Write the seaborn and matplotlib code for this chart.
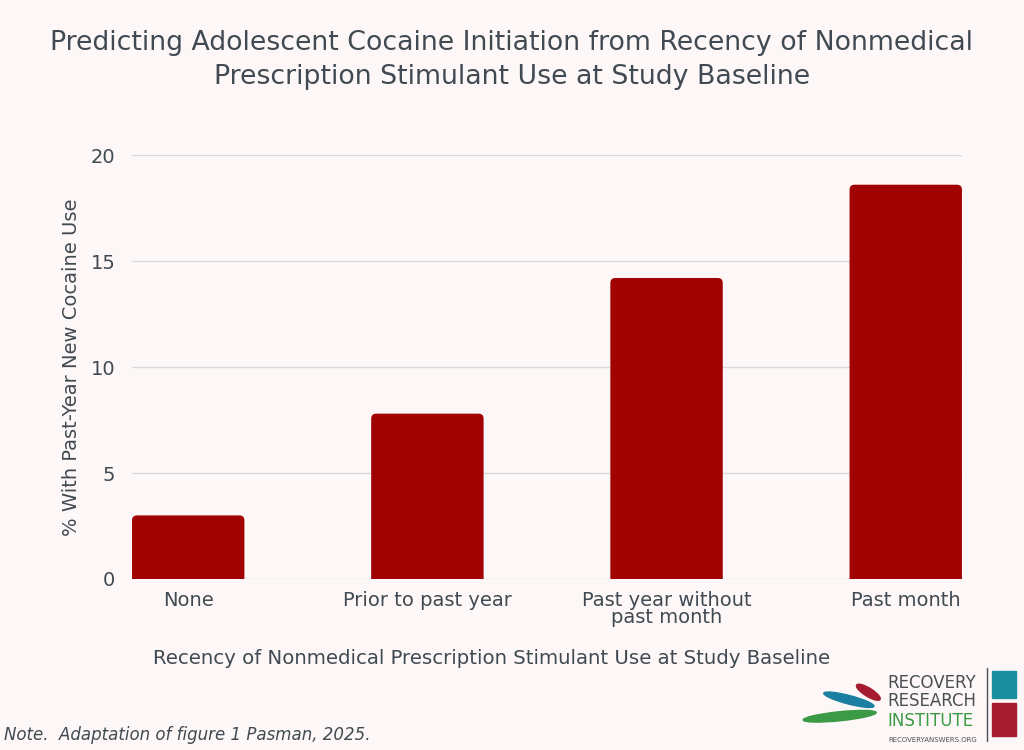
import numpy as np
import pandas as pd
import matplotlib.pyplot as plt
import matplotlib.patches as mpatches
import seaborn as sns

categories = ['None', 'Prior to past year', 'Past year without\npast month', 'Past month']
pct_new_cocaine = [3.0, 7.8, 14.2, 18.6]
y_ticks = [0, 5, 10, 15, 20]

df = pd.DataFrame({'recency': categories, 'pct': pct_new_cocaine})

bg = '#FDF8F7'
bar_col = '#A10303'
txt = '#414A52'

sns.set_theme(style='white')
plt.rcParams['font.family'] = ['DejaVu Sans']

fig = plt.figure(figsize=(10.24, 7.5), dpi=100, facecolor=bg)
ax = fig.add_axes([0.1289, 0.228, 0.8105, 0.5653], facecolor=bg)

sns.barplot(data=df, x='recency', y='pct', color=bar_col, width=0.47,
            saturation=1, ax=ax, zorder=3)

ax.set_xlim(-0.235, 3.235)
ax.set_ylim(0, 20)

# round the top corners of the bars
x_px = 830 / 3.47
y_px = 424 / 20
for p in list(ax.patches):
    x0, w, h = p.get_x(), p.get_width(), p.get_height()
    rb = mpatches.FancyBboxPatch((x0, -1), w, h + 1,
                                 boxstyle='round,pad=0,rounding_size=%f' % (5 / x_px),
                                 mutation_aspect=x_px / y_px,
                                 facecolor=bar_col, edgecolor='none', zorder=3)
    p.remove()
    ax.add_patch(rb)

ax.set_yticks(y_ticks)
ax.yaxis.grid(True, color='#DADADA', lw=1, zorder=0)
ax.set_axisbelow(True)
sns.despine(ax=ax, left=True, bottom=True, top=True, right=True)
ax.tick_params(axis='both', length=0, labelsize=14, colors=txt)
ax.tick_params(axis='y', pad=12)
ax.tick_params(axis='x', pad=9)
for lab in ax.get_xticklabels():
    lab.set_linespacing(0.85)

ax.set_xlabel('Recency of Nonmedical Prescription Stimulant Use at Study Baseline',
              fontsize=14.2, color=txt)
ax.xaxis.set_label_coords(0.433, -0.165)
ax.set_ylabel('% With Past-Year New Cocaine Use', fontsize=14, color=txt)
ax.yaxis.set_label_coords(-0.062, 0.5)

fig.text(0.5, 0.92, 'Predicting Adolescent Cocaine Initiation from Recency of Nonmedical\n'
         'Prescription Stimulant Use at Study Baseline',
         ha='center', va='center', fontsize=19.3, color=txt, linespacing=1.45)

fig.text(0.004, 0.008, 'Note.  Adaptation of figure 1 Pasman, 2025.',
         ha='left', va='bottom', fontsize=12, style='italic', color=txt)

# logo block, lower right
fig.text(0.867, 0.0827, 'RECOVERY', ha='left', va='baseline', fontsize=12,
         color='#4A4F55')
fig.text(0.867, 0.0587, 'RESEARCH', ha='left', va='baseline', fontsize=12,
         color='#4A4F55')
fig.text(0.867, 0.032, 'INSTITUTE', ha='left', va='baseline', fontsize=12,
         color='#3A9A45')
fig.text(0.868, 0.0107, 'RECOVERYANSWERS.ORG', ha='left', va='baseline', fontsize=5,
         color='#4A4F55')
fig.add_artist(plt.Line2D([0.964, 0.964], [0.012, 0.109], color='#4A4F55', lw=1))
fig.add_artist(mpatches.Ellipse((0.82, 0.045), 0.072, 0.012, angle=8,
                                color='#3A9A45', transform=fig.transFigure))
fig.add_artist(mpatches.Ellipse((0.829, 0.067), 0.052, 0.011, angle=-20,
                                color='#1A7FA0', transform=fig.transFigure))
fig.add_artist(mpatches.Ellipse((0.848, 0.077), 0.03, 0.01, angle=-42,
                                color='#A51C30', transform=fig.transFigure))
fig.add_artist(mpatches.Rectangle((0.969, 0.069), 0.023, 0.036, color='#1A8FA0',
                                  transform=fig.transFigure))
fig.add_artist(mpatches.Rectangle((0.969, 0.019), 0.023, 0.044, color='#A51C30',
                                  transform=fig.transFigure))

fig.savefig('out.png', dpi=100, facecolor=bg)
